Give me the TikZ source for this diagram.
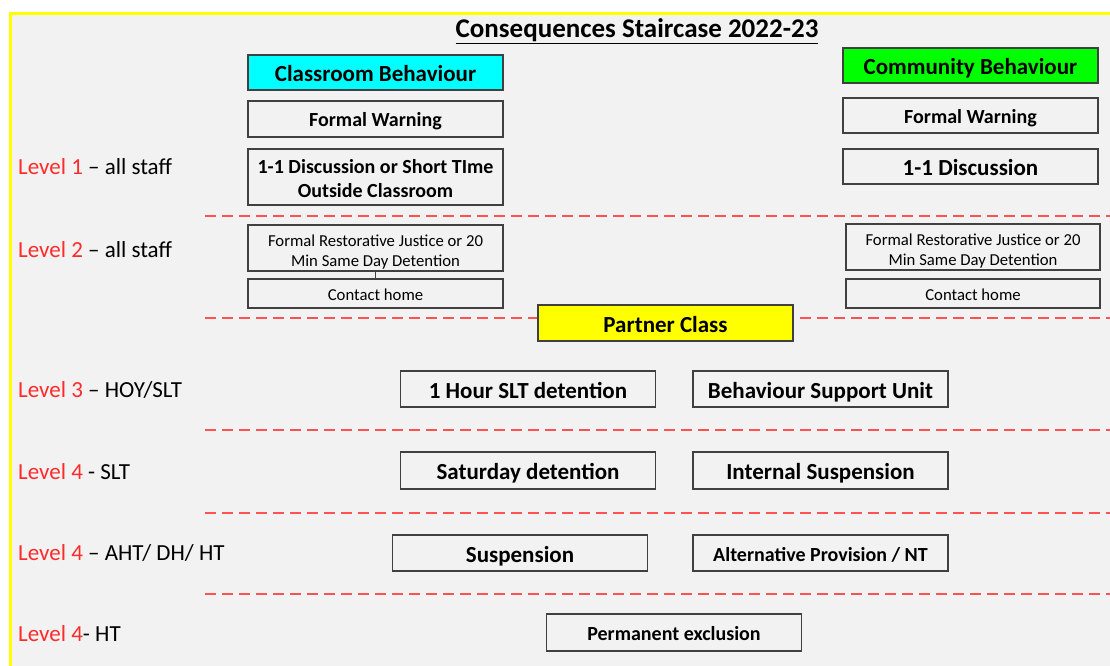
\documentclass[tikz,border=0pt]{standalone}
\usepackage{fontspec}
\setmainfont{Carlito}
\definecolor{panel}{HTML}{F2F2F2}
\definecolor{edge}{HTML}{404040}
\definecolor{levelred}{HTML}{FF2A2A}
\definecolor{cutline}{HTML}{FF5252}
\definecolor{classcyan}{HTML}{00FFFF}
\definecolor{commgreen}{HTML}{00FF00}
\definecolor{partneryellow}{HTML}{FFFF00}
\definecolor{frameyellow}{HTML}{FFFF00}

\begin{document}
\begin{tikzpicture}[x=1pt,y=-1pt,
  stepbox/.style={rectangle, draw=edge, line width=1.4pt, fill=panel,
                  minimum width=255pt, inner sep=0pt, outer sep=0pt,
                  text height=21pt, text depth=5pt,
                  align=center, font=\fontsize{20}{24}\selectfont\bfseries},
  twolines/.style={text height={}, text depth={}},
  bigbox/.style={stepbox, text height=24pt, text depth=5.8pt,
                 font=\fontsize{23}{26}\selectfont\bfseries},
  smallbox/.style={stepbox, text height=17.5pt, text depth=4.2pt,
                   font=\fontsize{16.7}{20}\selectfont},
  levellabel/.style={anchor=west, inner sep=0pt, font=\fontsize{23}{26}\selectfont},
  cutrow/.style={draw=cutline, line width=2pt, dash pattern=on 11pt off 6pt},
  ]
\useasboundingbox (0,0) rectangle (1110,666);
\fill[white] (0,0) rectangle (1110,666);
\fill[panel] (12,15) rectangle (1110,666);
\draw[frameyellow, line width=3pt] (10.5,666) -- (10.5,13.5) -- (1110,13.5);

\node (title) at (637,31) {\fontsize{27}{30}\selectfont\bfseries\underline{Consequences Staircase 2022-23}};

\foreach \ypos in {216,318,430,513,594}
  \draw[cutrow] (205,\ypos) -- (1110,\ypos);

\node[levellabel] (lev1) at (18,167) {\textcolor{levelred}{Level 1} -- all staff};
\node[levellabel] (lev2) at (18,250) {\textcolor{levelred}{Level 2} -- all staff};
\node[levellabel] (lev3) at (18,390) {\textcolor{levelred}{Level 3} -- HOY/SLT};
\node[levellabel] (lev4a) at (18,472) {\textcolor{levelred}{Level 4} - SLT};
\node[levellabel] (lev4b) at (18,553) {\textcolor{levelred}{Level 4} -- AHT/ DH/ HT};
\node[levellabel] (lev4c) at (18,634) {\textcolor{levelred}{Level 4}- HT};

\node[bigbox, fill=classcyan, minimum height=35pt] (classroom) at (375.5,72.5) {Classroom Behaviour};
\node[stepbox, minimum height=36pt] (warnL) at (375.5,119) {Formal Warning};
\node[stepbox, twolines, minimum height=56pt] (talkL) at (375.5,177) {\rule{0pt}{18pt}1-1 Discussion or Short TIme\\Outside Classroom};

\node[bigbox, fill=commgreen, minimum height=35pt] (community) at (970.5,65.5) {Community Behaviour};
\node[stepbox, minimum height=35pt] (warnR) at (970.5,115.5) {Formal Warning};
\node[bigbox, minimum height=35pt] (talkR) at (970.5,166.5) {1-1 Discussion};

\node[smallbox, twolines, minimum height=46pt] (justiceL) at (375.5,248) {\rule{0pt}{19pt}Formal Restorative Justice or 20\\Min Same Day Detention};
\node[smallbox, minimum height=29pt] (homeL) at (375.5,293.5) {Contact home};
\draw[edge, line width=1.4pt] (justiceL) -- (homeL);

\node[smallbox, twolines, minimum width=254pt, minimum height=46pt] (justiceR) at (973,247) {\rule{0pt}{19pt}Formal Restorative Justice or 20\\Min Same Day Detention};
\node[smallbox, minimum width=254pt, minimum height=29pt] (homeR) at (973,293.5) {Contact home};

\node[bigbox, fill=partneryellow, minimum height=36pt] (partner) at (665.5,323) {Partner Class};

\node[bigbox, minimum height=36pt] (sltdet) at (528,389) {1 Hour SLT detention};
\node[bigbox, minimum height=36pt] (bsu) at (820.5,389) {Behaviour Support Unit};
\node[bigbox, minimum height=37pt] (satdet) at (528,470.5) {Saturday detention};
\node[bigbox, minimum height=37pt] (internal) at (820.5,470.5) {Internal Suspension};
\node[bigbox, minimum height=36pt] (suspend) at (520,553) {Suspension};
\node[stepbox, minimum height=36pt] (altprov) at (820.5,553) {Alternative Provision / NT};
\node[stepbox, minimum height=37pt] (permex) at (674,632.5) {Permanent exclusion};
\end{tikzpicture}
\end{document}
